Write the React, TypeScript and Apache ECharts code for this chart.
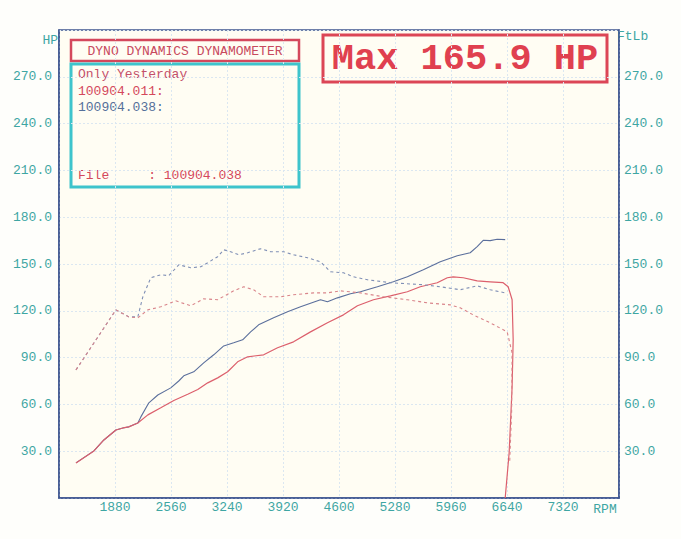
import React, { useEffect, useRef } from 'react';
import * as echarts from 'echarts';

// RPM axis and value axis settings
const rpmMin = 1200;
const rpmMax = 8000;
const rpmStep = 680;
const valMin = 0;
const valMax = 300;
const valStep = 30;

// Run 100904.011 — power (HP), [rpm, hp]
const hpRun011: [number, number][] = [
  [1406, 22.5], [1624, 30.2], [1745, 37.2], [1891, 43.6], [1976, 44.9], [2048, 45.6],
  [2157, 48.1], [2279, 53.3], [2436, 57.8], [2594, 62.5], [2763, 66.5], [2885, 69.5],
  [3006, 73.8], [3127, 77.0], [3248, 80.9], [3369, 87.3], [3491, 90.5], [3685, 91.8],
  [3854, 96.3], [4048, 100.1], [4254, 106.5], [4460, 112.3], [4654, 117.4], [4824, 123.2],
  [5018, 127.1], [5224, 129.6], [5430, 132.2], [5587, 135.4], [5793, 138.0], [5915, 141.2],
  [5987, 141.8], [6109, 141.2], [6278, 139.2], [6436, 138.6], [6593, 138.0], [6654, 135.4],
  [6702, 127.1], [6715, 101.4], [6702, 71.2], [6666, 28.9], [6618, 0],
];

// Run 100904.038 — power (HP)
const hpRun038: [number, number][] = [
  [1406, 22.5], [1624, 30.2], [1745, 37.2], [1891, 43.6], [1976, 44.9], [2048, 45.6],
  [2157, 48.1], [2194, 52.0], [2291, 61.0], [2400, 66.0], [2557, 70.6], [2654, 75.0],
  [2715, 78.3], [2836, 80.9], [2957, 86.6], [3079, 91.8], [3200, 97.5], [3321, 99.5],
  [3430, 101.4], [3527, 106.5], [3624, 111.0], [3806, 115.5], [3975, 119.4], [4133, 122.6],
  [4375, 127.1], [4460, 125.8], [4581, 128.3], [4739, 130.9], [4860, 132.2], [5066, 135.4],
  [5260, 138.6], [5430, 141.8], [5624, 146.3], [5830, 151.4], [6036, 155.3], [6193, 157.2],
  [6278, 161.1], [6351, 165.2], [6436, 165.0], [6521, 165.9], [6618, 165.6],
];

// Run 100904.038 — torque (FtLb)
const tqRun038: [number, number][] = [
  [1406, 82.1], [1891, 120.6], [2048, 116.1], [2157, 116.1], [2218, 129.0], [2315, 141.2],
  [2436, 143.1], [2533, 142.5], [2654, 149.5], [2800, 147.6], [2921, 148.2], [3006, 150.8],
  [3127, 154.7], [3200, 159.1], [3285, 157.9], [3382, 155.9], [3491, 157.2], [3648, 159.8],
  [3769, 157.9], [3927, 157.9], [4048, 155.9], [4218, 154.0], [4375, 151.4], [4497, 145.0],
  [4654, 144.4], [4775, 141.8], [4945, 139.9], [5224, 138.0], [5624, 136.7], [5830, 135.4],
  [6072, 133.5], [6278, 136.0], [6436, 133.5], [6618, 131.5],
];

// Run 100904.011 — torque (FtLb)
const tqRun011: [number, number][] = [
  [1406, 82.1], [1891, 120.6], [2048, 116.1], [2157, 115.5], [2279, 120.6], [2436, 122.6],
  [2618, 126.4], [2800, 123.2], [2957, 127.7], [3127, 127.1], [3321, 132.8], [3442, 135.4],
  [3563, 133.5], [3685, 129.0], [3891, 129.0], [4048, 130.3], [4291, 131.5], [4460, 131.5],
  [4618, 132.8], [4860, 131.5], [5139, 129.0], [5430, 127.1], [5672, 125.1], [5951, 123.8],
  [6072, 121.9], [6230, 117.4], [6436, 112.3], [6642, 106.5], [6702, 93.0], [6696, 55.0],
  [6672, 22.0],
];

const titleText = 'DYNO DYNAMICS DYNAMOMETER';
const infoLines = ['Only Yesterday', '100904.011:', '100904.038:'];
const fileLine = 'File     : 100904.038';
const maxText = 'Max 165.9 HP';

const MONO = '"Liberation Mono", "DejaVu Sans Mono", monospace';
const TEAL = '#3ea6a3';
const RED = '#d4485c';
const BLUE_TXT = '#55709a';
const GRIDLINE = '#dbe7f1';

export default function App() {
  const ref = useRef<HTMLDivElement>(null);
  useEffect(() => {
    if (!ref.current) return;
    const chart = echarts.init(ref.current, undefined, { renderer: 'svg' });
    const valLabel = (v: number) => (v === valMin || v === valMax ? '' : v.toFixed(1));
    const yCommon = {
      type: 'value' as const,
      min: valMin,
      max: valMax,
      interval: valStep,
      axisTick: { show: false },
      axisLine: { show: true, lineStyle: { color: '#3f5690', width: 1.5 } },
      splitLine: { show: true, lineStyle: { color: GRIDLINE, type: [2, 2], width: 1 } },
    };
    chart.setOption({
      animation: false,
      backgroundColor: '#fefefb',
      grid: {
        left: 59, right: 62, top: 30, bottom: 41,
        show: true, backgroundColor: '#fffdf3', borderColor: '#3f5690', borderWidth: 1.5,
      },
      xAxis: {
        type: 'value', min: rpmMin, max: rpmMax, interval: rpmStep,
        axisTick: { show: false },
        axisLine: { show: true, lineStyle: { color: '#3f5690', width: 1.5 } },
        splitLine: { show: true, lineStyle: { color: GRIDLINE, type: [2, 2], width: 1 } },
        axisLabel: {
          color: TEAL, fontFamily: MONO, fontSize: 13, margin: 3,
          formatter: (v: number) => (v === rpmMin || v === rpmMax ? '' : String(v)),
        },
      },
      yAxis: [
        { ...yCommon, position: 'left', axisLabel: { color: TEAL, fontFamily: MONO, fontSize: 13, margin: 7, formatter: valLabel } },
        { ...yCommon, position: 'right', splitLine: { show: false }, axisLabel: { color: TEAL, fontFamily: MONO, fontSize: 13, margin: 5, formatter: valLabel } },
      ],
      series: [
        { name: 'HP 100904.038', type: 'line', data: hpRun038, symbol: 'none', yAxisIndex: 0,
          lineStyle: { color: '#5b6f9c', width: 1.1 } },
        { name: 'HP 100904.011', type: 'line', data: hpRun011, symbol: 'none', yAxisIndex: 0,
          lineStyle: { color: '#dc5f6c', width: 1.2 } },
        { name: 'FtLb 100904.038', type: 'line', data: tqRun038, symbol: 'none', yAxisIndex: 1,
          lineStyle: { color: '#8090b6', width: 1.1, type: [3, 3] } },
        { name: 'FtLb 100904.011', type: 'line', data: tqRun011, symbol: 'none', yAxisIndex: 1,
          lineStyle: { color: '#d9858b', width: 1.1, type: [3, 3] } },
      ],
      graphic: [
        { type: 'text', x: 58, y: 40, style: { text: 'HP', fill: TEAL, font: `13px ${MONO}`, textAlign: 'right', textVerticalAlign: 'middle' } },
        { type: 'text', x: 617, y: 36, style: { text: 'FtLb', fill: TEAL, font: `13px ${MONO}`, textAlign: 'left', textVerticalAlign: 'middle' } },
        { type: 'text', x: 605, y: 509, style: { text: 'RPM', fill: TEAL, font: `13px ${MONO}`, textAlign: 'center', textVerticalAlign: 'middle' } },
        { type: 'rect', shape: { x: 71, y: 40, width: 228, height: 21 }, style: { fill: '#fffdf3', stroke: RED, lineWidth: 2.5 } },
        { type: 'text', x: 185, y: 51, style: { text: titleText, fill: '#c84a5e', font: `13px ${MONO}`, textAlign: 'center', textVerticalAlign: 'middle' } },
        { type: 'rect', shape: { x: 71, y: 64, width: 228, height: 123 }, style: { fill: '#fffdf3', stroke: '#3ec4cc', lineWidth: 3 } },
        { type: 'text', x: 78, y: 74, style: { text: infoLines[0], fill: '#c4506a', font: `13px ${MONO}`, textAlign: 'left', textVerticalAlign: 'middle' } },
        { type: 'text', x: 78, y: 91, style: { text: infoLines[1], fill: RED, font: `13px ${MONO}`, textAlign: 'left', textVerticalAlign: 'middle' } },
        { type: 'text', x: 78, y: 107, style: { text: infoLines[2], fill: BLUE_TXT, font: `13px ${MONO}`, textAlign: 'left', textVerticalAlign: 'middle' } },
        { type: 'text', x: 78, y: 175, style: { text: fileLine, fill: RED, font: `13px ${MONO}`, textAlign: 'left', textVerticalAlign: 'middle' } },
        { type: 'rect', shape: { x: 323, y: 35, width: 284, height: 47 }, style: { fill: '#fffdf3', stroke: '#dc4656', lineWidth: 3 } },
        { type: 'text', x: 465, y: 59, style: { text: maxText, fill: '#e0404f', font: `bold 37px ${MONO}`, textAlign: 'center', textVerticalAlign: 'middle' } },
      ],
    });
    return () => chart.dispose();
  }, []);
  return <div ref={ref} style={{ position: 'fixed', left: 0, top: 0, width: 681, height: 539 }} />;
}
